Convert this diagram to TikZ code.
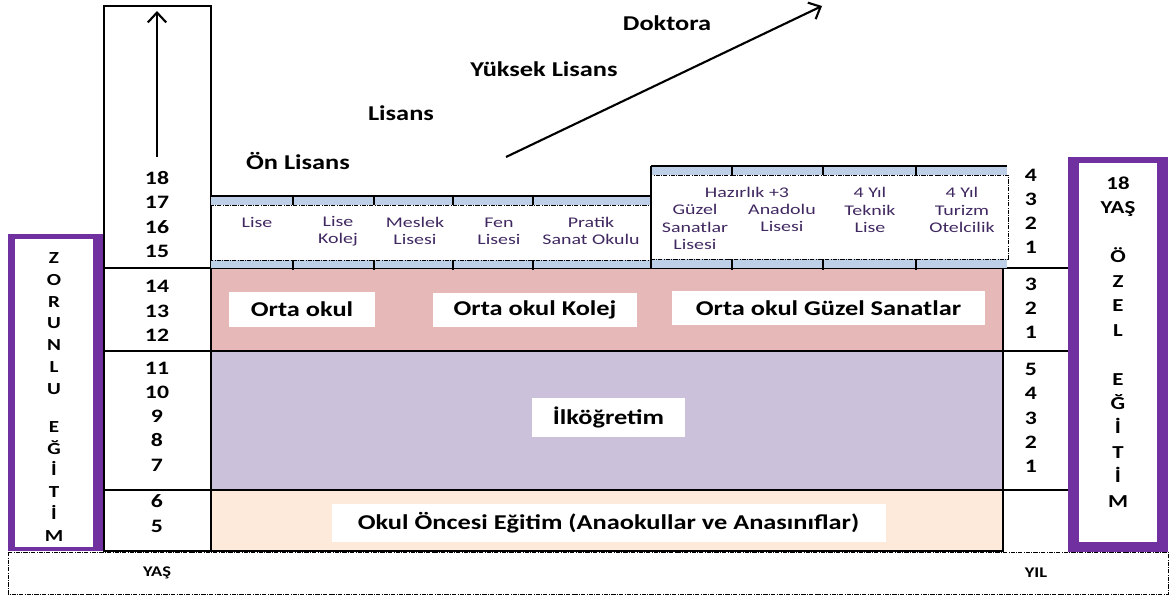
\documentclass[tikz,border=0pt]{standalone}
\usepackage{fontspec}
\setmainfont{Carlito}[FakeStretch=1.25]
\newfontfamily\liseFont{Carlito}[FakeStretch=1.35]
\usetikzlibrary{arrows.meta}
\definecolor{ozelMor}{RGB}{112,48,160}
\definecolor{ortaPembe}{RGB}{230,185,184}
\definecolor{ilkLila}{RGB}{204,193,218}
\definecolor{oncesiKrem}{RGB}{253,234,218}
\definecolor{liseMavi}{RGB}{190,208,232}
\definecolor{liseYazi}{RGB}{64,40,96}
\newcommand{\pxu}{0.025cm}

\begin{document}
\begin{tikzpicture}[x=0.025cm,y=-0.025cm,
      cellBox/.style={draw,line width=1pt},
      dashBox/.style={densely dash dot,line width=0.7pt},
      divTick/.style={line width=0.9pt},
      bandLabel/.style={fill=white,inner sep=0pt,font=\fontsize{15}{18}\selectfont\bfseries},
      ageNum/.style={align=center,font=\fontsize{13.5}{17.2}\selectfont\bfseries},
      liseText/.style={align=center,text=liseYazi,font=\liseFont\fontsize{10.5}{12.2}\selectfont},
      topLabel/.style={font=\fontsize{15}{18}\selectfont\bfseries},
      footLabel/.style={font=\fontsize{10.5}{12}\selectfont\bfseries},
      bigArrow/.style={line width=1.5pt,-{Straight Barb[length=7pt,width=13pt]}},
    ]
    \useasboundingbox (0,0) rectangle (1172,597);

    % bands
    \draw[cellBox,fill=oncesiKrem] (211,490) rectangle (1003,551);
    \draw[cellBox,fill=ilkLila] (211,351) rectangle (1003,490);
    \draw[cellBox,fill=ortaPembe] (211,268) rectangle (1003,351);
    \draw[line width=2pt] (211,351) -- (1003,351);

    % age column
    \draw[cellBox] (104,6) rectangle (211,551);
    \draw[cellBox] (104,268) -- (211,268) (104,351) -- (211,351) (104,490) -- (211,490);
    \draw[line width=2pt] (211,196) -- (211,551);

    % year column
    \draw[cellBox] (1003,268) -- (1068,268) (1003,351) -- (1068,351) (1003,490) -- (1068,490);

    % purple boxes
    \fill[ozelMor] (8,234) rectangle (103,551);
    \fill[white] (15,239) rectangle (93,547);
    \fill[ozelMor] (1068,157) rectangle (1168,552);
    \fill[white] (1079,163) rectangle (1157,542);

    % lise blocks
    \fill[liseMavi] (211,196) rectangle (651,205);
    \fill[liseMavi] (211,260) rectangle (651,268);
    \draw[cellBox] (211,196) -- (651,196);
    \draw[dashBox] (211,205) rectangle (651,260);
    \draw[divTick] (293,196) -- (293,205) (374,196) -- (374,205) (453,196) -- (453,205) (533,196) -- (533,205);
    \draw[divTick] (293,260) -- (293,270) (374,260) -- (374,270) (453,260) -- (453,270) (533,260) -- (533,270);

    \fill[liseMavi] (651,166) rectangle (1007,175);
    \fill[liseMavi] (651,259) rectangle (1007,268);
    \draw[dashBox] (651,175) rectangle (1008,259);
    \draw[cellBox] (651,166) -- (1007,166);
    \draw[cellBox] (651,166) -- (651,268);
    \draw[divTick] (732,166) -- (732,175) (823,166) -- (823,175) (916,166) -- (916,175);
    \draw[divTick] (732,259) -- (732,270) (823,259) -- (823,270) (916,259) -- (916,270);

    \node[liseText] (lise) at (257,222) {Lise};
    \node[liseText] (liseKolej) at (338,231) {Lise\\Kolej};
    \node[liseText] (meslekLise) at (415,231) {Meslek\\Lisesi};
    \node[liseText] (fenLise) at (499,231) {Fen\\Lisesi};
    \node[liseText] (pratikSanat) at (591,231) {Pratik\\Sanat Okulu};
    \node[liseText] (hazirlik) at (747,192) {Hazırlık +3};
    \node[liseText] (guzelSanat) at (695,227) {Güzel\\Sanatlar\\Lisesi};
    \node[liseText] (anadoluLise) at (782,218) {Anadolu\\Lisesi};
    \node[liseText] (teknikLise) at (870,210) {4 Yıl\\Teknik\\Lise};
    \node[liseText] (turizmLise) at (962,210) {4 Yıl\\Turizm\\Otelcilik};

    % band labels
    \node[bandLabel,minimum width=146*\pxu,minimum height=35*\pxu] (ortaOkul) at (302,309.5) {Orta okul};
    \node[bandLabel,minimum width=204*\pxu,minimum height=34*\pxu] (ortaKolej) at (535,310) {Orta okul Kolej};
    \node[bandLabel,minimum width=313*\pxu,minimum height=34*\pxu] (ortaGuzel) at (828.5,308) {Orta okul Güzel Sanatlar};
    \node[bandLabel,minimum width=153*\pxu,minimum height=39*\pxu] (ilkogretim) at (608.5,417.5) {İlköğretim};
    \node[bandLabel,minimum width=554*\pxu,minimum height=38*\pxu] (okulOncesi) at (608.5,523) {Okul Öncesi Eğitim (Anaokullar ve Anasınıflar)};

    % ages and years
    \node[ageNum] (yasLise) at (157,214.5) {18\\17\\16\\15};
    \node[ageNum] (yasOrta) at (157,311) {14\\13\\12};
    \node[ageNum] (yasIlk) at (157,416.5) {11\\10\\9\\8\\7};
    \node[ageNum] (yasOncesi) at (157,513.5) {6\\5};
    \node[ageNum] (yilLise) at (1031,211.5) {4\\3\\2\\1};
    \node[ageNum] (yilOrta) at (1031,308) {3\\2\\1};
    \node[ageNum] (yilIlk) at (1031,418) {5\\4\\3\\2\\1};

    % side labels
    \node[align=center,font=\fontsize{12}{15.5}\selectfont\bfseries] (zorunlu) at (54,397)
      {Z\\O\\R\\U\\N\\L\\U\\[11.5pt]E\\Ğ\\İ\\T\\İ\\M};
    \node[align=center,font=\fontsize{13}{17.4}\selectfont\bfseries] (ozelEgitim) at (1118,342)
      {18\\YAŞ\\[17.4pt]Ö\\Z\\E\\L\\[17.4pt]E\\Ğ\\İ\\T\\İ\\M};

    % higher education
    \node[topLabel] (onLisans) at (298,161) {Ön Lisans};
    \node[topLabel] (lisans) at (401,113) {Lisans};
    \node[topLabel] (yuksekLisans) at (544,69) {Yüksek Lisans};
    \node[topLabel] (doktora) at (667,23) {Doktora};

    \coordinate (yasOkAlt) at (157,157);
    \coordinate (yasOkUst) at (157,11);
    \draw[bigArrow] (yasOkAlt) -- (yasOkUst);
    \coordinate (ustOkAlt) at (506,157);
    \coordinate (ustOkUst) at (822,6);
    \draw[bigArrow] (ustOkAlt) -- (ustOkUst);

    % bottom strip
    \draw[dashBox] (8,552) rectangle (1168,594);
    \node[footLabel] (yasEtiket) at (157,573) {YAŞ};
    \node[footLabel] (yilEtiket) at (1036,573) {YIL};

	\end{tikzpicture}
\end{document}
